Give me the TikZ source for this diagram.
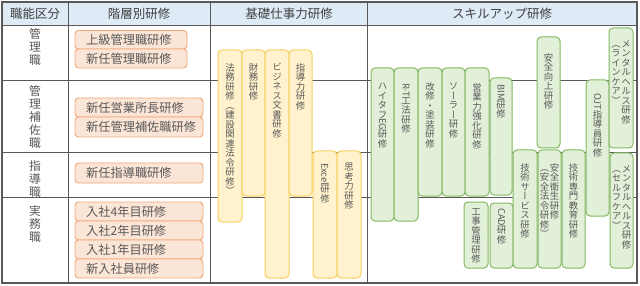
\documentclass[tikz,border=0pt]{standalone}
\usepackage{fontspec}
\usepackage{graphicx}
\setmainfont{Noto Sans CJK JP}
\newfontfamily\vfont[RawFeature=+vert]{Noto Sans CJK JP}
\definecolor{hdrfill}{HTML}{DEEBF7}
\definecolor{tgray}{HTML}{595959}
\definecolor{txtgray}{HTML}{595959}
\definecolor{hgray}{HTML}{404040}
\definecolor{ofill}{HTML}{FBE5D6}
\definecolor{obord}{HTML}{F0A878}
\definecolor{yfill}{HTML}{FFF2CC}
\definecolor{ybord}{HTML}{F7D25E}
\definecolor{gfill}{HTML}{E2F0D9}
\definecolor{gbord}{HTML}{84B862}
\ExplSyntaxOn
\NewDocumentCommand\vstack{m}
 {
  \bool_set_false:N \l_tmpa_bool
  \tl_map_inline:nn {#1}
   {
    \bool_if:NT \l_tmpa_bool { \\ }
    \bool_set_true:N \l_tmpa_bool
    ##1
   }
 }
\ExplSyntaxOff
\newcommand\rl[1]{\rotatebox[origin=c]{-90}{\fontsize{9.3}{9.3}\selectfont #1}}
\newcommand\vcol[1]{\parbox[t]{10pt}{\centering\vfont\fontsize{9.4}{9.5}\selectfont\lineskip=0.3pt\lineskiplimit=0pt\vstack{#1}}}
\newcommand\kcol[1]{\parbox[t]{14pt}{\centering\fontsize{11.8}{13}\selectfont\vstack{#1}}}
\newcommand\bx[6]{%
 \pgfmathsetmacro\bxw{#5-#3}\pgfmathsetmacro\bxh{#6-#4}%
 \pgfmathsetmacro\bxcx{(#3+#5)/2}\pgfmathsetmacro\bxcy{(#4+#6)/2}%
 \node[#1, minimum width=\bxw pt, minimum height=\bxh pt] (#2) at (\bxcx,\bxcy) {};}
\newcommand\vt[4]{\node[vtxt, anchor=north] (#1) at ([yshift=-#3pt]#2.north) {#4};}
\begin{document}
\begin{tikzpicture}[x=1pt,y=-1pt,
  tline/.style={draw=tgray, line width=0.9pt},
  obox/.style={draw=obord, fill=ofill, rounded corners=3.5pt, line width=0.9pt, inner sep=0pt, outer sep=0pt},
  ybox/.style={draw=ybord, fill=yfill, rounded corners=4pt, line width=1pt, inner sep=0pt, outer sep=0pt},
  gbox/.style={draw=gbord, fill=gfill, rounded corners=4pt, line width=1pt, inner sep=0pt, outer sep=0pt},
  vtxt/.style={inner sep=0pt, text=txtgray},
  otxt/.style={inner sep=0pt, text=txtgray, font=\fontsize{12.2}{12}\selectfont, anchor=west},
  htxt/.style={inner sep=0pt, text=hgray, font=\fontsize{12.5}{13}\selectfont},
  ktxt/.style={inner sep=0pt, text=txtgray, anchor=north}]
\useasboundingbox (0,0) rectangle (640,286);
\fill[white] (0,0) rectangle (640,286);
% table
\fill[hdrfill] (2,2) rectangle (637,25);
\draw[tline] (2,25) -- (637,25);
\draw[tline] (2,80) -- (637,80);
\draw[tline] (2,152) -- (637,152);
\draw[tline] (2,197) -- (637,197);
\draw[tline] (68,2) -- (68,283);
\draw[tline] (210,2) -- (210,283);
\draw[tline] (367,2) -- (367,283);
\draw[tline, line width=1.3pt] (2,2) rectangle (637,283);
% headers
\node[htxt] (h1) at (35,13.5) {職能区分};
\node[htxt] (h2) at (139,13.5) {階層別研修};
\node[htxt] (h3) at (289,13.5) {基礎仕事力研修};
\node[htxt] (h4) at (502,13.5) {スキルアップ研修};
% job classes
\node[ktxt] (k1) at (35,28) {\kcol{管理職}};
\node[ktxt] (k2) at (35,85) {\kcol{管理補佐職}};
\node[ktxt] (k3) at (35,160) {\kcol{指導職}};
\node[ktxt] (k4) at (35,205) {\kcol{実務職}};
% orange boxes
\bx{obox}{o1}{75}{30.5}{187}{49}
\bx{obox}{o2}{75}{49}{187}{68}
\bx{obox}{o3}{75}{98}{203}{117}
\bx{obox}{o4}{75}{117}{203}{137}
\bx{obox}{o5}{75}{163}{203}{183}
\bx{obox}{o6}{75}{202}{203}{221}
\bx{obox}{o7}{75}{221}{203}{240}
\bx{obox}{o8}{75}{240}{203}{259}
\bx{obox}{o9}{75}{259}{203}{278}
\node[otxt] (o1t) at ([xshift=11pt]o1.west) {上級管理職研修};
\node[otxt] (o2t) at ([xshift=11pt]o2.west) {新任管理職研修};
\node[otxt] (o3t) at ([xshift=11pt]o3.west) {新任営業所長研修};
\node[otxt] (o4t) at ([xshift=11pt]o4.west) {新任管理補佐職研修};
\node[otxt] (o5t) at ([xshift=11pt]o5.west) {新任指導職研修};
\node[otxt] (o6t) at ([xshift=11pt]o6.west) {入社4年目研修};
\node[otxt] (o7t) at ([xshift=11pt]o7.west) {入社2年目研修};
\node[otxt] (o8t) at ([xshift=11pt]o8.west) {入社1年目研修};
\node[otxt] (o9t) at ([xshift=11pt]o9.west) {新入社員研修};
% yellow boxes
\bx{ybox}{y1}{218}{50}{242}{222}
\bx{ybox}{y2}{242}{50}{265}{196}
\bx{ybox}{y3}{265}{50}{289}{278}
\bx{ybox}{y4}{289}{50}{312}{196}
\bx{ybox}{y5}{313}{151}{337}{278}
\bx{ybox}{y6}{337}{151}{361}{278}
\vt{y1t}{y1}{13}{\vcol{法務研修（建設関連法令研修）}}
\vt{y2t}{y2}{13}{\vcol{財務研修}}
\vt{y3t}{y3}{13}{\vcol{ビジネス文書研修}}
\vt{y4t}{y4}{13}{\vcol{指導力研修}}
\vt{y5t}{y5}{12}{\vcol{{\rl{Excel}}研修}}
\vt{y6t}{y6}{12}{\vcol{思考力研修}}
% green boxes
\bx{gbox}{g1}{371}{68}{394}{221}
\bx{gbox}{g2}{394}{68}{418}{221}
\bx{gbox}{g3}{418}{68}{442}{196}
\bx{gbox}{g4}{442}{68}{465}{196}
\bx{gbox}{g5}{465}{68}{489}{196}
\bx{gbox}{g6}{490}{78}{512}{195}
\bx{gbox}{g7}{464}{202}{488}{268}
\bx{gbox}{g8}{490}{203}{513}{268}
\bx{gbox}{g9}{513}{150}{537}{268}
\bx{gbox}{g10}{538}{150}{561}{268}
\bx{gbox}{g11}{562}{150}{585}{268}
\bx{gbox}{g12}{537}{37}{560}{148}
\bx{gbox}{g13}{586}{80}{609}{216}
\bx{gbox}{g14}{609}{28}{633}{148}
\bx{gbox}{g15}{610}{153}{633}{268}
\vt{g1t}{g1}{15}{\vcol{ハイタフ{\rl{EG}}研修}}
\vt{g2t}{g2}{15}{\vcol{{\rl{R-T}}工法研修}}
\vt{g3t}{g3}{14}{\vcol{改修・塗装研修}}
\vt{g4t}{g4}{15}{\vcol{ソーラー研修}}
\vt{g5t}{g5}{15}{\vcol{営業力強化研修}}
\vt{g6t}{g6}{6}{\vcol{{\rl{BIM}}研修}}
\vt{g7t}{g7}{6}{\vcol{工事管理研修}}
\vt{g8t}{g8}{5}{\vcol{{\rl{CAD}}研修}}
\vt{g9t}{g9}{13}{\vcol{技術サービス研修}}
\vt{g10t}{g10}{13}{\vcol{（安全法令研修）}\vcol{安全衛生研修}}
\vt{g11t}{g11}{13}{\vcol{技術専門教育研修}}
\vt{g12t}{g12}{16}{\vcol{安全向上研修}}
\vt{g13t}{g13}{13}{\vcol{{\rl{OJT}}指導員研修}}
\vt{g14t}{g14}{12}{\vcol{（ラインケア）}\vcol{メンタルヘルス研修}}
\vt{g15t}{g15}{12}{\vcol{（セルフケア）}\vcol{メンタルヘルス研修}}
\end{tikzpicture}
\end{document}
